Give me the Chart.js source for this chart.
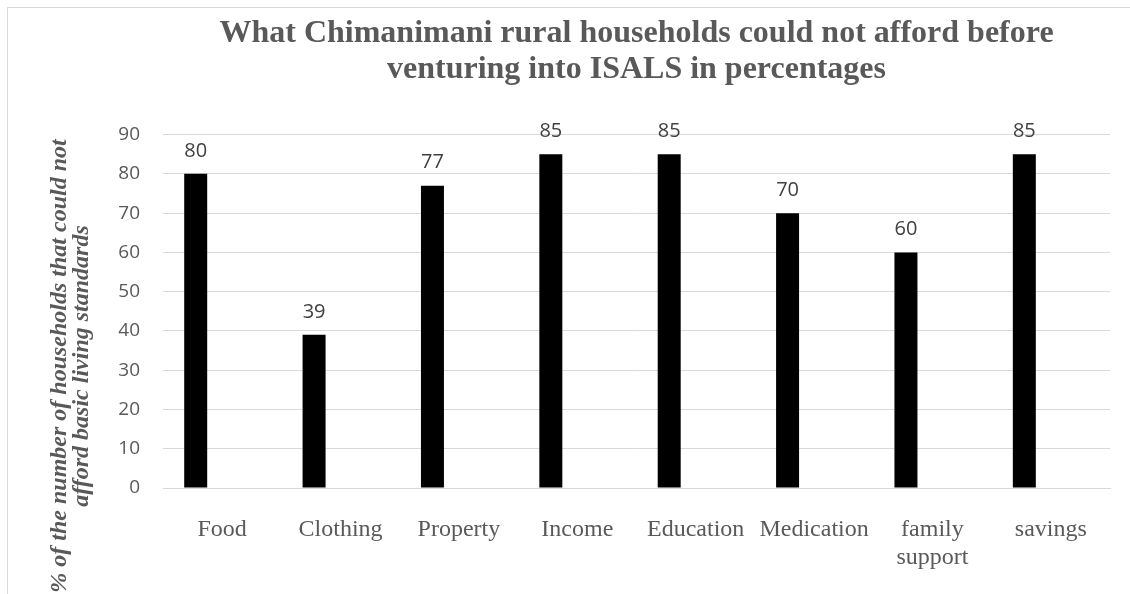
<!DOCTYPE html>
<html>
<head>
<meta charset="utf-8">
<script src="https://cdn.jsdelivr.net/npm/chart.js@4"></script>
<style>
  body { margin: 0; overflow: hidden; background: #fff; }
  #frame { position: absolute; left: 7px; top: 7px; width: 1200px; height: 700px; border: 1px solid #d9d9d9; pointer-events: none; }
  #myChart { position: absolute; left: 0; top: 0; }
</style>
</head>
<body>
<canvas id="myChart" width="1130" height="594"></canvas>
<div id="frame"></div>
<script>
// chart data
const categories = ['Food', 'Clothing', 'Property', 'Income', 'Education', 'Medication', ['family', 'support'], 'savings'];
const couldNotAfford = [80, 39, 77, 85, 85, 70, 60, 85];
// excel had a second (empty) series, which is why the bars sit left of the labels
const emptySeries = [null, null, null, null, null, null, null, null];
const yTicks = { min: 0, max: 90, step: 10 };

const titleLines = [
  'What Chimanimani rural households could not afford before',
  'venturing into ISALS in percentages'
];
const yTitleLines = [
  '% of the number of households that could not',
  'afford basic living standards'
];

const GREY = '#595959';
const GRID = '#d9d9d9';

// value labels above the bars
const barLabels = {
  id: 'barLabels',
  afterDatasetsDraw(chart) {
    const ctx = chart.ctx;
    const meta = chart.getDatasetMeta(0);
    ctx.save();
    ctx.font = '20px "Open Sans"';
    ctx.fillStyle = '#404040';
    ctx.textAlign = 'center';
    ctx.textBaseline = 'middle';
    meta.data.forEach((bar, i) => {
      ctx.fillText(couldNotAfford[i], bar.x, bar.y - 23);
    });
    ctx.restore();
  }
};

// y axis title, excel puts it a bit lower than the plot centre
const yTitle = {
  id: 'yTitle',
  afterDraw(chart) {
    const ctx = chart.ctx;
    const xs = [66, 88];
    ctx.save();
    ctx.font = 'italic bold 24px "Liberation Serif"';
    ctx.fillStyle = GREY;
    ctx.textAlign = 'center';
    ctx.textBaseline = 'alphabetic';
    yTitleLines.forEach((line, i) => {
      ctx.save();
      ctx.translate(xs[i], 366);
      ctx.rotate(-Math.PI / 2);
      ctx.fillText(line, 0, 0);
      ctx.restore();
    });
    ctx.restore();
  }
};

const data = {
  labels: categories,
  datasets: [
    {
      label: 'Could not afford',
      data: couldNotAfford,
      backgroundColor: '#000000',
      borderWidth: 0,
      categoryPercentage: 0.895,
      barPercentage: 0.434
    },
    {
      label: '',
      data: emptySeries,
      backgroundColor: '#000000',
      categoryPercentage: 0.895,
      barPercentage: 0.434
    }
  ]
};

const config = {
  type: 'bar',
  data: data,
  options: {
    responsive: false,
    animation: false,
    layout: { padding: { left: 0, right: 20, top: 0, bottom: 0 } },
    plugins: {
      legend: { display: false },
      tooltip: { enabled: false },
      title: {
        display: true,
        fullSize: false,
        text: titleLines,
        color: GREY,
        font: { family: '"Liberation Serif"', size: 32, weight: 'bold', lineHeight: 1.15 },
        padding: { top: 15, bottom: 46 }
      }
    },
    scales: {
      x: {
        grid: { display: false, drawTicks: false },
        border: { color: GRID },
        ticks: {
          color: GREY,
          font: { family: '"Liberation Serif"', size: 24, lineHeight: 1.15 },
          padding: 28,
          maxRotation: 0,
          autoSkip: false
        },
        afterFit(scale) { scale.height = 106; }
      },
      y: {
        min: yTicks.min,
        max: yTicks.max,
        grid: { color: GRID, drawTicks: false },
        border: { display: false },
        ticks: {
          stepSize: yTicks.step,
          color: GREY,
          font: { family: '"Open Sans"', size: 19 },
          padding: 23
        },
        afterFit(scale) { scale.width = 163; }
      }
    }
  },
  plugins: [barLabels, yTitle]
};

const myChart = new Chart(document.getElementById('myChart'), config);
</script>
</body>
</html>
